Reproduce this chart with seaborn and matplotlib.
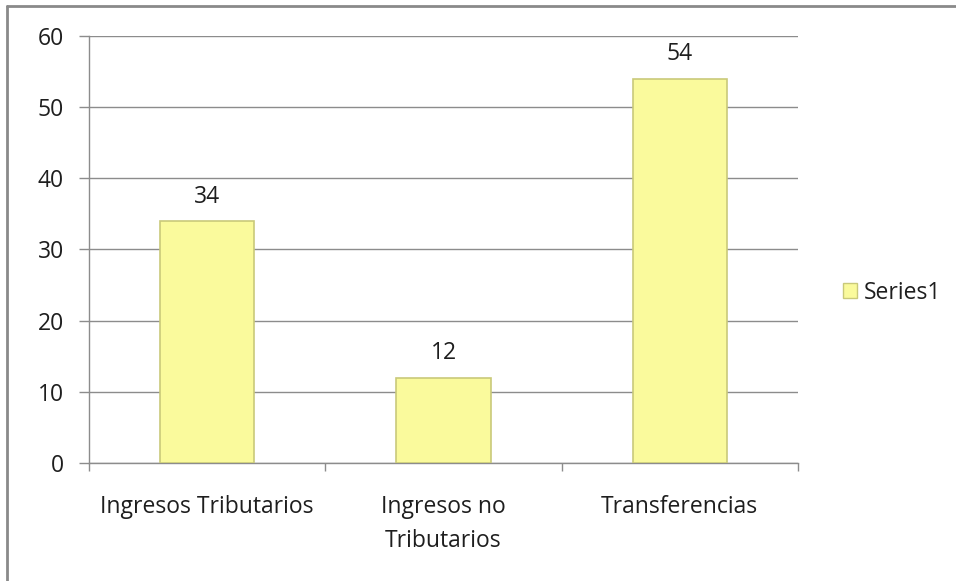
import pandas as pd
import seaborn as sns
import matplotlib.pyplot as plt
from matplotlib.lines import Line2D

categorias = ['Ingresos Tributarios', 'Ingresos no\nTributarios', 'Transferencias']
valores = [34, 12, 54]
serie = ['Series1', 'Series1', 'Series1']

df = pd.DataFrame({'Categoria': categorias, 'Valor': valores, 'Serie': serie})

bar_color = '#FAFA9C'
edge_color = '#C9C97A'
grid_color = '#8C8C8C'
text_color = '#1E1E1E'
fontsize = 16.5

sns.set_theme(style='white')
plt.rcParams['font.family'] = ['Open Sans', 'DejaVu Sans']

fig = plt.figure(figsize=(9.56, 5.81), dpi=100)
ax = fig.add_axes([0.0931, 0.2031, 0.7416, 0.735])

sns.barplot(data=df, x='Categoria', y='Valor', hue='Serie', palette=[bar_color],
            saturation=1, width=0.4, edgecolor=edge_color, linewidth=1.2, ax=ax, zorder=3)

ax.set_ylim(0, 60)
ax.set_xlim(-0.5, 2.5)
ax.set_yticks(range(0, 61, 10))
ax.yaxis.grid(True, color=grid_color, linewidth=1)
ax.set_axisbelow(True)

# ticks en los limites de categoria, etiquetas al centro
ax.set_xticks([-0.5, 0.5, 1.5, 2.5])
ax.set_xticklabels([])
ax.set_xticks([0, 1, 2], minor=True)
ax.set_xticklabels(categorias, minor=True, fontsize=fontsize, color=text_color, linespacing=1.55)
ax.tick_params(axis='x', which='major', direction='out', length=6, color=grid_color, width=1, bottom=True)
ax.tick_params(axis='x', which='minor', length=0, pad=23)
ax.tick_params(axis='y', direction='out', length=7, color=grid_color, width=1, left=True,
               pad=11, labelsize=fontsize, labelcolor=text_color)
ax.set_xlabel('')
ax.set_ylabel('')

for s in ['top', 'right']:
    ax.spines[s].set_visible(False)
for s in ['left', 'bottom']:
    ax.spines[s].set_color(grid_color)
    ax.spines[s].set_linewidth(1)

# etiquetas de datos
for cont in ax.containers:
    ax.bar_label(cont, padding=9, fontsize=fontsize, color=text_color)

ax.get_legend().remove()
handles = [plt.Rectangle((0, 0), 1, 1, facecolor=bar_color, edgecolor=edge_color)]
fig.legend(handles, ['Series1'], loc='center left', bbox_to_anchor=(0.860, 0.496),
           frameon=False, fontsize=fontsize, handlelength=0.6, handleheight=0.6,
           handletextpad=0.3, labelcolor=text_color)

# borde del grafico (izquierda y arriba)
fig.add_artist(Line2D([0.0073, 0.0073], [0, 0.99], transform=fig.transFigure, color='#8A8A8A', linewidth=2))
fig.add_artist(Line2D([0.0073, 1], [0.99, 0.99], transform=fig.transFigure, color='#8A8A8A', linewidth=2))

fig.savefig('out.png', dpi=100)
plt.close()
